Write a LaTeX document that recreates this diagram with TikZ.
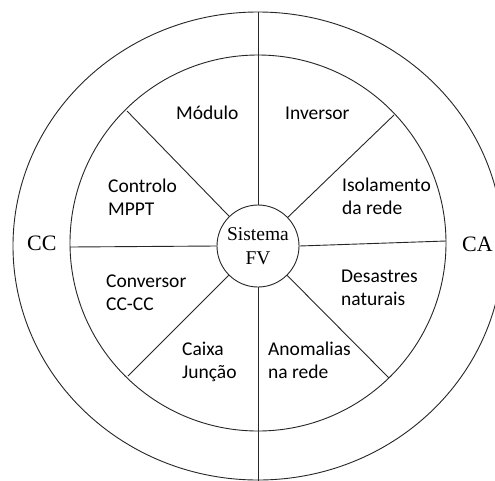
\documentclass[tikz,border=0pt]{standalone}
\usepackage{fontspec}
\setmainfont{Liberation Serif}
\newfontfamily\carl{Carlito}
\begin{document}
\begin{tikzpicture}[x=1pt,y=-1pt,
  ln/.style={line width=0.9pt,draw=black!85},
  lbl/.style={anchor=base west,inner sep=0pt,font=\carl\fontsize{19.5}{23}\selectfont},
  side/.style={anchor=base west,inner sep=0pt,font=\fontsize{22}{24}\selectfont}]
\useasboundingbox (0,0) rectangle (495,480);
\clip (0,0) rectangle (495,480);
\fill[white] (0,0) rectangle (495,480);
% rings
\draw[ln] (258,246) ellipse [x radius=245, y radius=234];
\draw[ln] (258,243) circle [radius=188];
% centre
\node[ln,draw,circle,minimum size=82pt,inner sep=0pt,fill=white,
      align=center,font=\fontsize{19.5}{24}\selectfont] (fv) at (258,246) {Sistema\\FV};
% coordinates
\coordinate (top) at (258,12);
\coordinate (bot) at (258,482);
\coordinate (L) at (70,247);
\coordinate (R) at (446,241);
\coordinate (UL) at (127,111);
\coordinate (UR) at (394,115);
\coordinate (LL) at (128,376);
\coordinate (LR) at (389,378);
% spokes
\draw[ln] (top) -- (fv.north);
\draw[ln] (fv.south) -- (bot);
\draw[ln] (L) -- (fv.west);
\draw[ln] (fv.east) -- (R);
\draw[ln] (UL) -- (fv);
\draw[ln] (UR) -- (fv);
\draw[ln] (LL) -- (fv);
\draw[ln] (LR) -- (fv);
% labels
\node[lbl] (mod) at (176,119) {Módulo};
\node[lbl] (inv) at (285,119) {Inversor};
\node[lbl] (ctrl1) at (108,192) {Controlo};
\node[lbl] (ctrl2) at (108,215) {MPPT};
\node[lbl] (iso1) at (342,191) {Isolamento};
\node[lbl] (iso2) at (342,214) {da rede};
\node[lbl] (conv1) at (106,287) {Conversor};
\node[lbl] (conv2) at (106,310) {CC-CC};
\node[lbl] (des1) at (341,282) {Desastres};
\node[lbl] (des2) at (341,305) {naturais};
\node[lbl] (cx1) at (182,355) {Caixa};
\node[lbl] (cx2) at (182,378) {Junção};
\node[lbl] (an1) at (268,355) {Anomalias};
\node[lbl] (an2) at (268,378) {na rede};
\node[side] (cc) at (27,250) {CC};
\node[side] (ca) at (462,251) {CA};
\end{tikzpicture}
\end{document}
